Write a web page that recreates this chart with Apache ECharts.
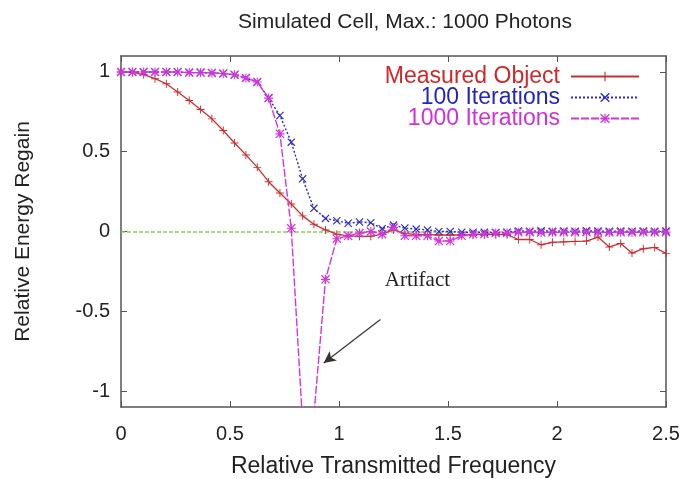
<!DOCTYPE html>
<html>
<head>
<meta charset="utf-8">
<script src="https://cdn.jsdelivr.net/npm/echarts@6/dist/echarts.min.js"></script>
<style>
  html, body { margin: 0; padding: 0; background: #fff; }
  #chart { width: 683px; height: 479px; }
</style>
</head>
<body>
<div id="chart"></div>
<script>
// sample positions (relative transmitted frequency)
const freq = [
  0, 0.052, 0.104, 0.156, 0.208, 0.260, 0.313, 0.365, 0.417, 0.469,
  0.521, 0.573, 0.625, 0.677, 0.729, 0.781, 0.833, 0.885, 0.938, 0.990,
  1.042, 1.094, 1.146, 1.198, 1.250, 1.302, 1.354, 1.406, 1.458, 1.510,
  1.563, 1.615, 1.667, 1.719, 1.771, 1.823, 1.875, 1.927, 1.979, 2.031,
  2.083, 2.135, 2.188, 2.240, 2.292, 2.344, 2.396, 2.448, 2.5,
]

const measured = [
  1.0, 0.997, 0.983, 0.958, 0.926, 0.874, 0.821, 0.765, 0.706, 0.633,
  0.555, 0.48, 0.402, 0.312, 0.241, 0.172, 0.098, 0.045, 0.01, -0.017,
  -0.028, -0.03, -0.03, -0.017, 0.01, -0.012, -0.02, -0.02, -0.022, -0.022,
  -0.022, -0.02, -0.02, -0.02, -0.02, -0.05, -0.05, -0.083, -0.068, -0.065,
  -0.062, -0.06, -0.035, -0.097, -0.075, -0.135, -0.108, -0.1, -0.137,
]

const iter100 = [
  1.0, 1.0, 1.0, 1.0, 1.0, 1.0, 0.996, 0.996, 0.994, 0.99,
  0.983, 0.962, 0.937, 0.836, 0.727, 0.56, 0.33, 0.145, 0.082, 0.067,
  0.052, 0.06, 0.055, 0.018, 0.04, 0.022, 0.015, 0.01, 0.0, 0.0,
  -0.005, -0.005, -0.005, -0.007, -0.005, 0.003, 0.002, 0.004, 0.002, 0.003,
  0.002, 0.004, 0.003, 0.002, 0.003, 0.002, 0.003, 0.002, 0.003,
]

const iter1000 = [
  1.0, 1.0, 1.0, 1.0, 1.0, 1.0, 0.996, 0.996, 0.994, 0.99,
  0.983, 0.962, 0.937, 0.836, 0.612, 0.02, -1.2, -1.15, -0.30, -0.045,
  -0.027, -0.01, 0.0, -0.017, 0.025, -0.027, -0.027, -0.027, -0.06, -0.06,
  -0.027, -0.017, -0.015, -0.01, -0.01, -0.005, -0.004, -0.006, -0.005, -0.004,
  -0.005, -0.004, -0.005, -0.006, -0.004, -0.005, -0.004, -0.005, -0.004,
]

const seriesNames = ['Measured Object', '100 Iterations', '1000 Iterations']
const yTicks = [-1, -0.5, 0, 0.5, 1]

// annotation: label anchor and arrow (data coords)
const artifactLabel = [1.21, -0.31]
const artifactArrow = [[1.19, -0.552], [0.93, -0.824]]

const RED = '#c83030'
const BLUE = '#2a2ac4'
const MAGENTA = '#d236d6'
const FRAME = '#555555'
const FONT = "'Liberation Sans', Arial, sans-serif"

const plusPath = 'path://M4.4,0H5.6V10H4.4Z M0,4.4H10V5.6H0Z'
const crossPath = 'path://M0,1L1,0L10,9L9,10Z M9,0L10,1L1,10L0,9Z'
const starPath = 'path://M4.4,0H5.6V10H4.4Z M0,4.4H10V5.6H0Z M0,1L1,0L10,9L9,10Z M9,0L10,1L1,10L0,9Z'

const pairs = (ys) => freq.map((x, i) => [x, ys[i]])

const chart = echarts.init(document.getElementById('chart'))

const frameAxis = {
  axisLine: { show: true, onZero: false, lineStyle: { color: FRAME, width: 1.5 } },
  splitLine: { show: false },
}

chart.setOption({
  animation: false,
  backgroundColor: '#ffffff',
  title: {
    text: 'Simulated Cell, Max.: 1000 Photons',
    left: 400,
    textAlign: 'center',
    top: 7,
    textStyle: { fontFamily: FONT, fontSize: 21, fontWeight: 'normal', color: '#222' },
  },
  legend: {
    orient: 'vertical',
    align: 'right',
    right: 43,
    top: 65,
    padding: 0,
    itemWidth: 68,
    itemHeight: 12,
    itemGap: -2,
    data: [
      { name: seriesNames[0], textStyle: { color: '#d02828' } },
      { name: seriesNames[1], textStyle: { color: '#2424c0' } },
      { name: seriesNames[2], textStyle: { color: '#d030d8' } },
    ],
    textStyle: { fontFamily: FONT, fontSize: 23, padding: [0, 6, 0, 0] },
  },
  grid: { left: 121, right: 17, top: 56, bottom: 72, outerBoundsMode: 'none' },
  xAxis: [
    {
      ...frameAxis,
      type: 'value',
      min: 0,
      max: 2.5,
      interval: 0.5,
      position: 'bottom',
      axisTick: { inside: true, length: 6, lineStyle: { color: FRAME } },
      axisLabel: { fontFamily: FONT, fontSize: 20, color: '#222', margin: 17 },
      name: 'Relative Transmitted Frequency',
      nameLocation: 'middle',
      nameGap: 48,
      nameTextStyle: { fontFamily: FONT, fontSize: 23, color: '#222' },
    },
    {
      ...frameAxis,
      type: 'value',
      min: 0,
      max: 2.5,
      interval: 0.5,
      position: 'top',
      axisTick: { inside: true, length: 6, lineStyle: { color: FRAME } },
      axisLabel: { show: false },
    },
  ],
  yAxis: [
    {
      ...frameAxis,
      type: 'value',
      min: -1.1,
      max: 1.1,
      position: 'left',
      axisTick: { inside: true, length: 6, customValues: yTicks, lineStyle: { color: FRAME } },
      axisLabel: { fontFamily: FONT, fontSize: 20, color: '#222', margin: 11, customValues: yTicks },
      name: 'Relative Energy Regain',
      nameLocation: 'middle',
      nameGap: 87,
      nameTextStyle: { fontFamily: FONT, fontSize: 21, color: '#222' },
    },
    {
      ...frameAxis,
      type: 'value',
      min: -1.1,
      max: 1.1,
      position: 'right',
      axisTick: { inside: true, length: 6, customValues: yTicks, lineStyle: { color: FRAME } },
      axisLabel: { show: false },
    },
  ],
  series: [
    {
      name: seriesNames[0],
      type: 'line',
      data: pairs(measured),
      symbol: plusPath,
      symbolSize: 8,
      showAllSymbol: true,
      lineStyle: { color: RED, width: 1.3 },
      itemStyle: { color: RED },
      markLine: {
        silent: true,
        symbol: 'none',
        label: { show: false },
        lineStyle: { color: '#8ccf50', type: [4, 2], width: 1.5 },
        data: [{ yAxis: 0 }],
        z: 1,
      },
      z: 3,
    },
    {
      name: seriesNames[1],
      type: 'line',
      data: pairs(iter100),
      symbol: crossPath,
      symbolSize: 8,
      showAllSymbol: true,
      lineStyle: { color: BLUE, width: 1.4, type: [2, 2] },
      itemStyle: { color: BLUE },
      z: 4,
    },
    {
      name: seriesNames[2],
      type: 'line',
      data: pairs(iter1000),
      symbol: starPath,
      symbolSize: 9,
      showAllSymbol: true,
      lineStyle: { color: MAGENTA, width: 1.4, type: [8, 2] },
      itemStyle: { color: MAGENTA },
      markPoint: {
        silent: true,
        symbol: 'circle',
        symbolSize: 0,
        label: {
          show: true,
          position: 'right',
          distance: 0,
          formatter: 'Artifact',
          fontFamily: "'Liberation Serif', 'Times New Roman', serif",
          fontSize: 21,
          color: '#222',
        },
        data: [{ coord: artifactLabel }],
      },
      markLine: {
        silent: true,
        symbol: ['none', 'arrow'],
        symbolSize: [9, 12],
        label: { show: false },
        lineStyle: { color: '#333', type: 'solid', width: 1.2 },
        data: [[{ coord: artifactArrow[0] }, { coord: artifactArrow[1] }]],
      },
      z: 5,
    },
  ],
})
</script>
</body>
</html>
